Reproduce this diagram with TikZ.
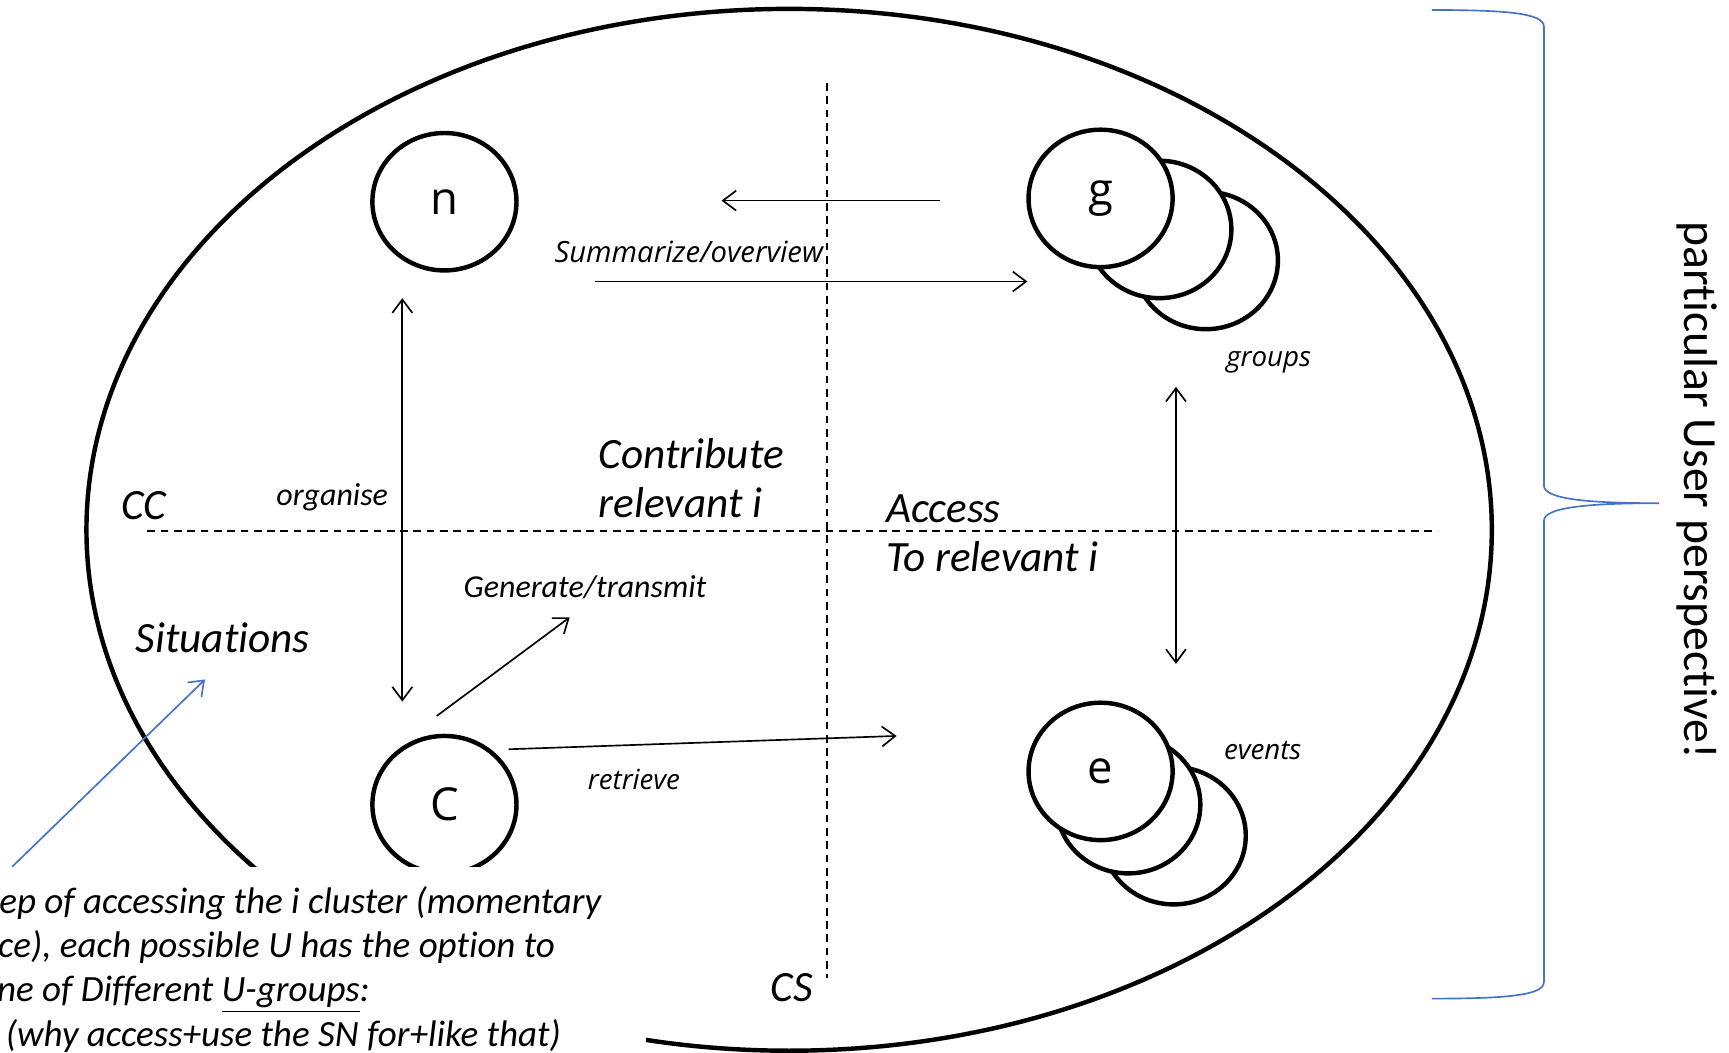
\documentclass[tikz,border=0pt]{standalone}
\usepackage{fontspec}
\setmainfont{Carlito}[Ligatures=NoCommon]
\newfontfamily\osans{Open Sans}
\usetikzlibrary{arrows.meta,shapes.geometric}
\definecolor{bracecol}{RGB}{68,114,196}
\tikzset{
  outline/.style={line width=2pt},
  bubble/.style={ellipse, draw, line width=2pt, fill=white, inner sep=0pt,
    minimum width=65pt, minimum height=62pt, font=\osans\fontsize{20.5}{24}\selectfont},
  arr/.style={line width=0.75pt, -{Straight Barb[length=6pt,width=9pt]}},
  darr/.style={line width=0.75pt, {Straight Barb[length=6pt,width=9pt]}-{Straight Barb[length=6pt,width=9pt]}},
  dashline/.style={line width=0.7pt, dash pattern=on 3.5pt off 2.5pt},
  oslabel/.style={font=\osans\itshape\fontsize{12.5}{15}\selectfont, inner sep=0pt, anchor=base west},
  cllabel/.style={font=\itshape\fontsize{14.4}{17}\selectfont, inner sep=0pt, anchor=base west},
  biglabel/.style={font=\itshape\fontsize{19.5}{22.2}\selectfont, inner sep=0pt, anchor=base west, align=left},
  notetext/.style={font=\itshape\fontsize{16.7}{20}\selectfont, inner sep=0pt, anchor=base west},
  bluearr/.style={draw=bracecol, line width=0.75pt, -{Straight Barb[length=6pt,width=9pt]}},
}
\begin{document}
\begin{tikzpicture}[x=0.5pt,y=-0.5pt]
\useasboundingbox (0,0) rectangle (1560,950);
\begin{scope}
\clip (0,0) rectangle (1560,950);
% big ellipse
\draw[outline] (712,478) ellipse [x radius=634, y radius=470];
% dashed axes
\coordinate (hl) at (133,479);
\coordinate (hr) at (1297,479);
\coordinate (vt) at (746,75);
\coordinate (vb) at (746,882);
\draw[dashline] (hl) -- (hr);
\draw[dashline] (vt) -- (vb);
% circles
\node[bubble] (n) at (401,182) {n};
\node[bubble] (c) at (401,726) {C};
\node[bubble] (g3) at (1088,235) {};
\node[bubble] (g2) at (1046,207) {};
\node[bubble] (g) at (993,179) {g};
\node[bubble] (e3) at (1059,754) {};
\node[bubble] (e2) at (1018,726) {};
\node[bubble] (e) at (993,696) {e};
% arrows
\coordinate (a1s) at (848,181);
\coordinate (a1e) at (651,181);
\draw[arr] (a1s) -- (a1e);
\coordinate (a2s) at (537,254);
\coordinate (a2e) at (927,254);
\draw[arr] (a2s) -- (a2e);
\coordinate (ot) at (363,269);
\coordinate (ob) at (363,633);
\draw[darr] (ot) -- (ob);
\coordinate (gt) at (1061,349);
\coordinate (gb) at (1061,599);
\draw[darr] (gt) -- (gb);
\coordinate (gens) at (394,646);
\coordinate (gene) at (514,557);
\draw[arr] (gens) -- (gene);
\coordinate (rets) at (459,676);
\coordinate (rete) at (809,664);
\draw[arr] (rets) -- (rete);
% labels
\node[oslabel, font=\osans\itshape\fontsize{13.2}{15}\selectfont] (lsum) at (500,237) {Summarize/overview};
\node[oslabel] (lgroups) at (1106,331) {groups};
\node[oslabel] (levents) at (1104,685) {events};
\node[oslabel] (lret) at (530,712) {retrieve};
\node[cllabel] (lorg) at (249,456) {organise};
\node[cllabel] (lgen) at (418,539) {Generate/transmit};
\node[biglabel] (lcc) at (109,469) {CC};
\node[biglabel] (lcon) at (540,467) {Contribute\\relevant i};
\node[biglabel] (lacc) at (799,516) {Access\\To relevant i};
\node[biglabel] (lsit) at (122,589) {Situations};
\node[biglabel] (lcs) at (695,904) {CS};
% text box covering lower left
\fill[white] (0,782) rectangle (583,950);
\node[notetext] (t1) at (-1,824) {ep of accessing the i cluster (momentary};
\node[notetext] (t2) at (-2,864) {ce), each possible U has the option to};
\node[notetext] (t3) at (-3,904) {ne of Different \underline{U-groups}:};
\node[notetext] (t4) at (5,944) {(why access+use the SN for+like that)};
\coordinate (bs) at (11,782);
\coordinate (be) at (185,613);
\draw[bluearr] (bs) -- (be);
% brace
\draw[bracecol, line width=0.75pt] (1292,9) .. controls (1360,9) and (1393,12) .. (1393,24)
  -- (1393,438) .. controls (1393,450) and (1430,454) .. (1497,454)
  .. controls (1430,454) and (1393,458) .. (1393,470)
  -- (1393,886) .. controls (1393,898) and (1360,901) .. (1292,901);
\node[font=\fontsize{21.5}{25}\selectfont, rotate=-90, inner sep=0pt] (ptext) at (1531,442) {particular User perspective!};
\end{scope}
\end{tikzpicture}
\end{document}
